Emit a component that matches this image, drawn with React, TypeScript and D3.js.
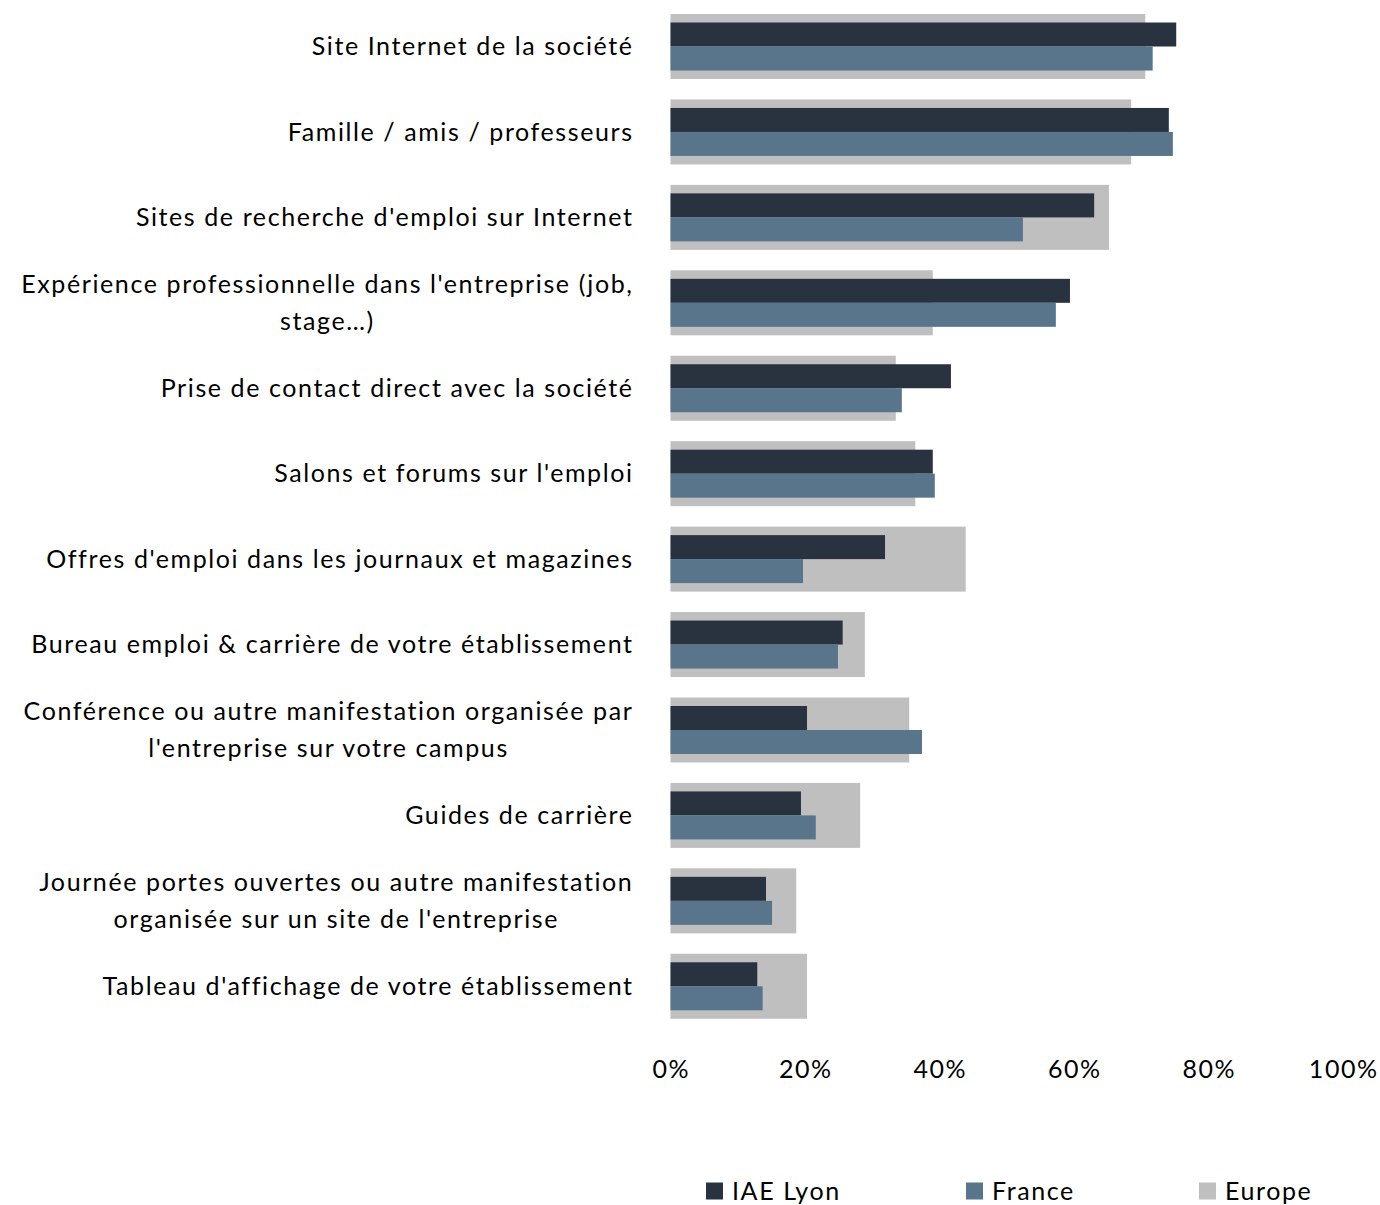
import { useMemo } from "react";
import * as d3 from "d3";

// values (percent of respondents)
const CATEGORIES = [
  "Site Internet de la société",
  "Famille / amis / professeurs",
  "Sites de recherche d'emploi sur Internet",
  "Expérience professionnelle dans l'entreprise (job,\nstage…)",
  "Prise de contact direct avec la société",
  "Salons et forums sur l'emploi",
  "Offres d'emploi dans les journaux et magazines",
  "Bureau emploi & carrière de votre établissement",
  "Conférence ou autre manifestation organisée par\nl'entreprise sur votre campus",
  "Guides de carrière",
  "Journée portes ouvertes ou autre manifestation\norganisée sur un site de l'entreprise",
  "Tableau d'affichage de votre établissement",
];
const IAE_LYON = [75.2, 74.1, 63.0, 59.4, 41.7, 39.0, 31.9, 25.6, 20.3, 19.4, 14.2, 12.9];
const FRANCE = [71.7, 74.7, 52.4, 57.3, 34.4, 39.3, 19.7, 24.9, 37.4, 21.6, 15.1, 13.7];
const EUROPE = [70.6, 68.5, 65.2, 39.0, 33.5, 36.4, 43.9, 28.9, 35.5, 28.2, 18.7, 20.3];
const TICKS = [0, 20, 40, 60, 80, 100];
const SERIES = ["IAE Lyon", "France", "Europe"];
const COLORS = ["#29323f", "#58758c", "#bfbfbf"];

const W = 1380;
const H = 1205;
const FONT = "Lato, 'Open Sans', sans-serif";
const FS = 25;
const LS = 1.6; // excel-ish wide tracking
const LABEL_RIGHT = 632;

let ctx: CanvasRenderingContext2D | null = null;
function textWidth(s: string) {
  if (!ctx) ctx = document.createElement("canvas").getContext("2d");
  if (!ctx) return s.length * FS * 0.6;
  ctx.font = `${FS}px ${FONT}`;
  return ctx.measureText(s).width + [...s].length * LS;
}

export default function App() {
  const x = useMemo(() => d3.scaleLinear().domain([0, 100]).range([670.5, 1343]), []);
  const y = useMemo(
    () => d3.scaleBand<string>().domain(CATEGORIES).range([3.8, 1029]).padding(0),
    [],
  );
  const sub = useMemo(
    () => d3.scaleBand<string>().domain(["IAE Lyon", "France"]).range([-24, 24]),
    [],
  );

  const rows = CATEGORIES.map((c, i) => ({
    c,
    cy: (y(c) ?? 0) + y.bandwidth() / 2,
    lines: c.split("\n"),
    iae: IAE_LYON[i],
    fr: FRANCE[i],
    eu: EUROPE[i],
  }));

  return (
    <div style={{ position: "absolute", left: 0, top: 0 }}>
      <svg
        width={W}
        height={H}
        style={{ display: "block", fontFamily: FONT, letterSpacing: `${LS}px` }}
      >
        <rect width={W} height={H} fill="#fff" />

        {/* europe bars behind */}
        {rows.map((r) => (
          <rect
            key={`eu${r.c}`}
            x={x(0)}
            y={r.cy - 32.5}
            width={x(r.eu) - x(0)}
            height={65}
            fill={COLORS[2]}
          />
        ))}
        {rows.map((r) => (
          <g key={`b${r.c}`}>
            <rect
              x={x(0)}
              y={r.cy + (sub("IAE Lyon") ?? 0)}
              width={x(r.iae) - x(0)}
              height={sub.bandwidth()}
              fill={COLORS[0]}
            />
            <rect
              x={x(0)}
              y={r.cy + (sub("France") ?? 0)}
              width={x(r.fr) - x(0)}
              height={sub.bandwidth()}
              fill={COLORS[1]}
            />
          </g>
        ))}

        {/* category labels */}
        <g fill="#000" fontSize={FS}>
          {rows.map((r) => {
            if (r.lines.length === 1) {
              return (
                <text key={r.c} x={LABEL_RIGHT + LS} y={r.cy} dy="0.35em" textAnchor="end">
                  {r.c}
                </text>
              );
            }
            const maxW = d3.max(r.lines, (l) => textWidth(l)) ?? 0;
            const cx = LABEL_RIGHT + LS - maxW / 2;
            const lh = 37.5;
            return (
              <text key={r.c} textAnchor="middle">
                {r.lines.map((l, j) => (
                  <tspan
                    key={j}
                    x={cx}
                    y={r.cy + (j - (r.lines.length - 1) / 2) * lh}
                    dy="0.35em"
                  >
                    {l}
                  </tspan>
                ))}
              </text>
            );
          })}
        </g>

        {/* x axis labels */}
        <g fill="#000" fontSize={FS} textAnchor="middle">
          {TICKS.map((t) => (
            <text key={t} x={x(t) + LS / 2} y={1069} dy="0.35em">
              {d3.format(".0%")(t / 100)}
            </text>
          ))}
        </g>

        {/* legend */}
        <g fontSize={FS} fill="#000">
          {SERIES.map((s, i) => {
            const lx = [706, 966, 1199][i];
            return (
              <g key={s} transform={`translate(${lx},1191)`}>
                <rect x={0} y={-8.5} width={17} height={17} fill={COLORS[i]} />
                <text x={26} dy="0.35em">
                  {s}
                </text>
              </g>
            );
          })}
        </g>
      </svg>
    </div>
  );
}
